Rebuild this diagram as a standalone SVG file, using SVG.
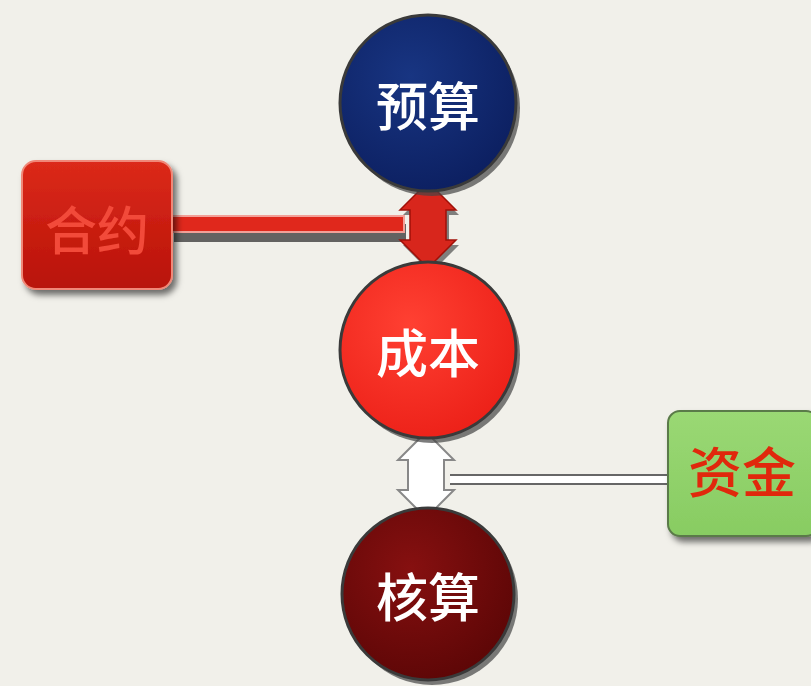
<svg xmlns="http://www.w3.org/2000/svg" width="811" height="686" viewBox="0 0 811 686">
<defs>
<radialGradient id="gBlue" cx="0.4" cy="0.35" r="0.7"><stop offset="0" stop-color="#183582"/><stop offset="1" stop-color="#0c1f60"/></radialGradient>
<radialGradient id="gRed" cx="0.4" cy="0.35" r="0.7"><stop offset="0" stop-color="#ff4032"/><stop offset="1" stop-color="#ec2018"/></radialGradient>
<radialGradient id="gDark" cx="0.4" cy="0.35" r="0.7"><stop offset="0" stop-color="#861010"/><stop offset="1" stop-color="#5c0606"/></radialGradient>
<linearGradient id="gBox" x1="0" y1="0" x2="0" y2="1"><stop offset="0" stop-color="#dc2a1a"/><stop offset="1" stop-color="#b81208"/></linearGradient>
<linearGradient id="gGreen" x1="0" y1="0" x2="0" y2="1"><stop offset="0" stop-color="#9ad874"/><stop offset="1" stop-color="#88cc62"/></linearGradient>
<filter id="sh" x="-20%" y="-20%" width="140%" height="140%"><feDropShadow dx="4" dy="5" stdDeviation="3" flood-color="#000" flood-opacity="0.55"/></filter>
</defs>
<style>
.t{font-family:"Noto Sans CJK SC","Noto Sans",sans-serif;font-weight:500;text-anchor:middle;dominant-baseline:central}
.c{stroke:#3a3a3a;stroke-width:3}
</style>
<rect width="811" height="686" fill="#f1f0ea"/>
<g id="connectors">
<rect x="172" y="218" width="232" height="18" fill="#333" opacity="0.75" transform="translate(2,6)"/>
<rect x="172" y="216" width="232" height="16" fill="#e0281c" stroke="#f2a098" stroke-width="2"/>
<path d="M428,182 L456,210 L446,210 L446,240 L456,240 L428,268 L400,240 L410,240 L410,210 L400,210 Z" fill="#333" opacity="0.6" transform="translate(3,5)"/>
<path d="M428,182 L456,210 L446,210 L446,240 L456,240 L428,268 L400,240 L410,240 L410,210 L400,210 Z" fill="#d8261c" stroke="#a01008" stroke-width="1.5"/>
<line x1="450" y1="475" x2="668" y2="475" stroke="#666" stroke-width="2"/>
<line x1="450" y1="484" x2="668" y2="484" stroke="#666" stroke-width="2"/>
<rect x="450" y="476" width="218" height="7" fill="#fff"/>
<path d="M426,432 L454,460 L444,460 L444,490 L454,490 L426,518 L398,490 L408,490 L408,460 L398,460 Z" fill="#fff" stroke="#888" stroke-width="2"/>
</g>
<g id="n-yusuan">
<circle cx="428" cy="103" r="88" fill="#444" opacity="0.7" transform="translate(4,5)"/>
<circle class="c" cx="428" cy="103" r="88" fill="url(#gBlue)"/>
<text class="t" x="428" y="103" font-size="52" fill="#fff">预算</text>
</g>
<g id="n-chengben">
<circle cx="428" cy="350" r="88" fill="#444" opacity="0.7" transform="translate(4,5)"/>
<circle class="c" cx="428" cy="350" r="88" fill="url(#gRed)"/>
<text class="t" x="428" y="350" font-size="52" fill="#fff">成本</text>
</g>
<g id="n-hesuan">
<circle cx="428" cy="594" r="86" fill="#444" opacity="0.7" transform="translate(4,5)"/>
<circle class="c" cx="428" cy="594" r="86" fill="url(#gDark)"/>
<text class="t" x="428" y="594" font-size="52" fill="#fff">核算</text>
</g>
<g id="n-heyue">
<rect x="22" y="161" width="150" height="128" rx="14" fill="url(#gBox)" stroke="#f08878" stroke-width="2" filter="url(#sh)"/>
<text class="t" x="97" y="227" font-size="52" fill="#f24a3a">合约</text>
</g>
<g id="n-zijin">
<rect x="668" y="411" width="150" height="125" rx="12" fill="url(#gGreen)" stroke="#5a7a48" stroke-width="2" filter="url(#sh)"/>
<text class="t" x="742" y="469" font-size="54" fill="#e0280c">资金</text>
</g>
</svg>
